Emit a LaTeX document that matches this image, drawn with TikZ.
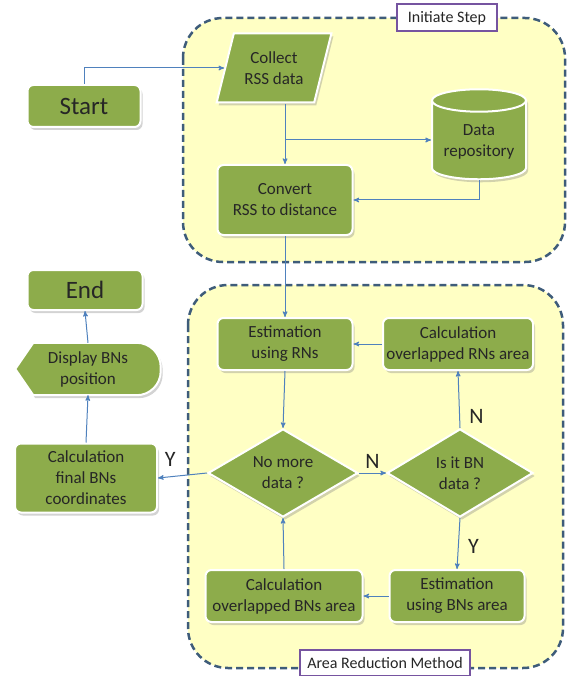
\documentclass[tikz,border=0pt]{standalone}
\usepackage{fontspec}
\setmainfont{Carlito}
\usetikzlibrary{backgrounds,calc,shapes,shadows,arrows,positioning}

\definecolor{boxgreen}{RGB}{141,172,75}
\definecolor{areayellow}{RGB}{255,255,196}
\definecolor{areaedge}{RGB}{62,92,122}
\definecolor{linkblue}{RGB}{79,129,189}
\definecolor{tagpurple}{RGB}{118,84,160}

\tikzset{
  greenshade/.style={fill=boxgreen, draw=white, line width=2,
    drop shadow={opacity=0.35, shadow xshift=2pt, shadow yshift=-3pt}},
  stepbox/.style={greenshade, rectangle, rounded corners=6, align=center,
    text=black!85, font=\fontsize{17}{21}\selectfont, inner sep=2},
  databox/.style={greenshade, trapezium, trapezium left angle=70,
    trapezium right angle=110, trapezium stretches=true, align=center,
    text=black!85, font=\fontsize{17}{21}\selectfont, inner sep=2},
  storebox/.style={greenshade, cylinder, shape border rotate=90, aspect=0.3,
    align=center, text=black!85, font=\fontsize{17}{21}\selectfont, inner sep=2},
  askbox/.style={greenshade, diamond, aspect=1.7, align=center, inner sep=0,
    text=black!85, font=\fontsize{17}{21}\selectfont},
  region/.style={draw=areaedge, fill=areayellow, dashed, line width=2.5,
    dash pattern=on 7pt off 4pt, rounded corners=40},
  tagbox/.style={draw=tagpurple, fill=white, line width=2, inner sep=3,
    text=black!85, font=\fontsize{16}{19}\selectfont},
  flowline/.style={->, draw=linkblue, line width=1},
  answer/.style={font=\fontsize{22}{24}\selectfont, text=black!85}
}

\begin{document}
\begin{tikzpicture}[>=stealth', x=1pt, y=-1pt]
    \useasboundingbox (0,0) rectangle (568,676);

    % dashed areas
    \draw[region] (183,18) rectangle (565,262);
    \draw[region] (188,285) rectangle (563,668);
    \node[tagbox, minimum width=100, minimum height=27] (initTag) at (447,18) {Initiate Step};
    \node[tagbox, minimum width=170, minimum height=26] (areaTag) at (385,663) {Area Reduction Method};

    % initiate step
    \node[stepbox, minimum width=113, minimum height=42, font=\fontsize{25}{28}\selectfont] (startNode) at (84,106) {Start};
    \node[databox, minimum width=115, minimum height=69] (collectNode) at (274,68) {Collect\\RSS data};
    \node[storebox, minimum width=94, minimum height=90] (repoNode) at (479,142) {Data\\repository};
    \node[stepbox, minimum width=135, minimum height=70] (convertNode) at (285,200) {Convert\\RSS to distance};

    % area reduction method
    \node[stepbox, minimum width=135, minimum height=52] (estRNNode) at (285,344) {Estimation\\using RNs};
    \node[stepbox, minimum width=150, minimum height=52] (calcRNNode) at (458,344) {Calculation\\overlapped RNs area};
    \node[askbox, minimum width=150, minimum height=88] (noMoreNode) at (283,473) {No more\\data ?};
    \node[askbox, minimum width=146, minimum height=88] (isBNNode) at (460,473) {Is it BN\\data ?};
    \node[stepbox, minimum width=135, minimum height=52] (estBNNode) at (457,596) {Estimation\\using BNs area};
    \node[stepbox, minimum width=157, minimum height=52] (calcBNNode) at (284,596) {Calculation\\overlapped BNs area};

    % left column
    \node[stepbox, minimum width=142, minimum height=69] (finalNode) at (86,478) {Calculation\\final BNs\\coordinates};
    \node[align=center, text=black!85, font=\fontsize{17}{21}\selectfont, minimum width=145, minimum height=52] (displayNode) at (88,369) {Display BNs\\position};
    \begin{pgfonlayer}{background}
      \path[greenshade] (displayNode.west) -- ([xshift=18]displayNode.north west)
        [rounded corners=24] -- (displayNode.north east) -- (displayNode.south east)
        [sharp corners] -- ([xshift=18]displayNode.south west) -- cycle;
    \end{pgfonlayer}
    \node[stepbox, minimum width=115, minimum height=40, font=\fontsize{25}{28}\selectfont] (endNode) at (85,290) {End};

    % connectors
    \draw[flowline] (startNode.north) |- (collectNode);
    \draw[flowline] (convertNode.north |- collectNode.south) -- (convertNode.north);
    \draw[flowline] (convertNode.north |- 0,140) -- (repoNode.west |- 0,140);
    \draw[flowline] (repoNode.south) |- (convertNode.east);
    \draw[flowline] (convertNode.south) -- (estRNNode.north);
    \draw[flowline] (estRNNode.south) -- (noMoreNode.north);
    \draw[flowline] (noMoreNode.east) -- (isBNNode.west) node[answer, midway, above=1pt] {N};
    \draw[flowline] (isBNNode.north) -- (calcRNNode.south) node[answer, pos=0.2, right=6pt] {N};
    \draw[flowline] (calcRNNode.west) -- (estRNNode.east);
    \draw[flowline] (isBNNode.south) -- (estBNNode.north) node[answer, pos=0.55, right=6pt] {Y};
    \draw[flowline] (estBNNode.west) -- (calcBNNode.east);
    \draw[flowline] (calcBNNode.north) -- (noMoreNode.south);
    \draw[flowline] (noMoreNode.west) -- (finalNode.east) node[answer, pos=0.75, above=6pt] {Y};
    \draw[flowline] (finalNode.north) -- (displayNode.south);
    \draw[flowline] (displayNode.north) -- (endNode.south);

  \end{tikzpicture}
\end{document}
